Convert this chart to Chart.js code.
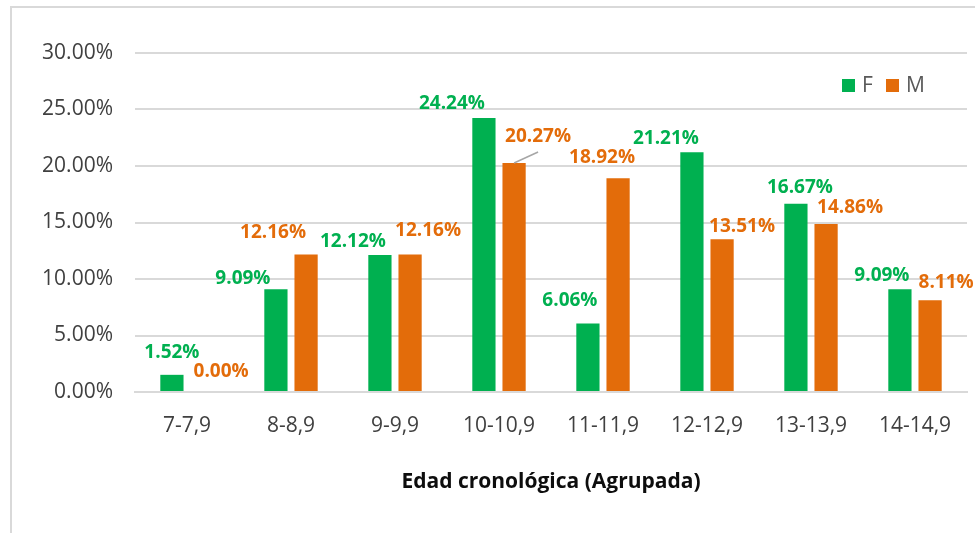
<!DOCTYPE html>
<html>
<head>
<meta charset="utf-8">
<script src="https://cdn.jsdelivr.net/npm/chart.js@4.4.1/dist/chart.umd.min.js"></script>
<style>
  html, body { margin: 0; padding: 0; background: #fff; overflow: hidden; }
  #frame {
    position: absolute; left: 10px; top: 6px; width: 1000px; height: 600px;
    border-left: 2px solid #d9d9d9; border-top: 2px solid #d9d9d9;
  }
  #wrap { position: absolute; left: 0; top: 0; width: 975px; height: 533px; }
</style>
</head>
<body>
<div id="frame"></div>
<div id="wrap"><canvas id="ageCtx" width="975" height="533"></canvas></div>
<script>
// age groups and share per sex (percent)
const ageGroups = ['7-7,9', '8-8,9', '9-9,9', '10-10,9', '11-11,9', '12-12,9', '13-13,9', '14-14,9'];
const femaleShare = [1.52, 9.09, 12.12, 24.24, 6.06, 21.21, 16.67, 9.09];
const maleShare = [0.00, 12.16, 12.16, 20.27, 18.92, 13.51, 14.86, 8.11];
const yTicks = [0, 5, 10, 15, 20, 25, 30];

const GREEN = '#00b050';
const ORANGE = '#e36c0a';

// label nudges as in the original (px from bar top centre)
const femaleNudge = [[0, -22], [-33, -11], [-27, -13], [-32, -14], [-18, -23], [-26, -14], [4, -16], [-18, -14]];
const maleNudge = [[19, -20], [-33, -22], [18, -24], [24, -26], [-16, -21], [20, -13], [24, -16], [16, -18]];
const maleLeader = [false, false, false, true, false, false, false, false];

/// draws the value labels and the little legend inside the plot
const labelPlugin = {
    id: 'valueLabels',
    afterDatasetsDraw(chart) {
        const ctx = chart.ctx;
        const nudges = [femaleNudge, maleNudge];
        ctx.save();
        ctx.font = 'bold 19px "Open Sans"';
        ctx.textAlign = 'center';
        ctx.textBaseline = 'middle';
        chart.data.datasets.forEach((ds, di) => {
            const meta = chart.getDatasetMeta(di);
            meta.data.forEach((bar, i) => {
                const [dx, dy] = nudges[di][i];
                const lx = bar.x + dx;
                const ly = bar.y + dy;
                if (di === 1 && maleLeader[i]) {
                    ctx.strokeStyle = '#a6a6a6';
                    ctx.lineWidth = 1.5;
                    ctx.beginPath();
                    ctx.moveTo(bar.x, bar.y);
                    ctx.lineTo(lx, ly + 15);
                    ctx.stroke();
                }
                ctx.fillStyle = ds.backgroundColor;
                ctx.fillText(ds.data[i].toFixed(2) + '%', lx, ly);
            });
        });

        // legend, top right of the plot
        ctx.font = '21px "Open Sans"';
        ctx.textAlign = 'left';
        let x = chart.chartArea.right - 125;
        const y = chart.chartArea.top + 32;
        chart.data.datasets.forEach((ds) => {
            ctx.fillStyle = ds.backgroundColor;
            ctx.fillRect(x, y - 6, 13, 13);
            ctx.fillStyle = '#595959';
            ctx.fillText(ds.label, x + 20, y + 1);
            x += 44;
        });
        ctx.restore();
    }
};

var ageChart = new Chart(document.getElementById('ageCtx'), {
    type: 'bar',
    data: {
        labels: ageGroups,
        datasets: [
            { label: 'F', data: femaleShare, backgroundColor: GREEN, categoryPercentage: 0.58, barPercentage: 0.77 },
            { label: 'M', data: maleShare, backgroundColor: ORANGE, categoryPercentage: 0.58, barPercentage: 0.77 }
        ]
    },
    options: {
        responsive: false,
        animation: false,
        layout: { padding: { left: 0, right: 8, top: 53, bottom: 38 } },
        plugins: {
            legend: { display: false },
            tooltip: { enabled: false }
        },
        scales: {
            x: {
                grid: { display: false },
                border: { display: true, color: '#d9d9d9', width: 2 },
                ticks: { color: '#404040', font: { family: 'Open Sans', size: 21 }, padding: 13, maxRotation: 0 },
                title: {
                    display: true,
                    text: 'Edad cronológica (Agrupada)',
                    color: '#0d0d0d',
                    font: { family: 'Open Sans', size: 21, weight: 'bold' },
                    padding: { top: 0, bottom: 0 }
                },
                afterFit(scale) { scale.height = 141 - 38; }
            },
            y: {
                min: 0,
                max: 30,
                afterBuildTicks(scale) { scale.ticks = yTicks.map(v => ({ value: v })); },
                grid: { color: '#d9d9d9', lineWidth: 2, drawTicks: false },
                border: { display: false },
                ticks: {
                    color: '#404040',
                    font: { family: 'Open Sans', size: 21 },
                    padding: 22,
                    callback: (v) => v.toFixed(2) + '%'
                },
                afterFit(scale) { scale.width = 135; }
            }
        }
    },
    plugins: [labelPlugin]
});
</script>
</body>
</html>
